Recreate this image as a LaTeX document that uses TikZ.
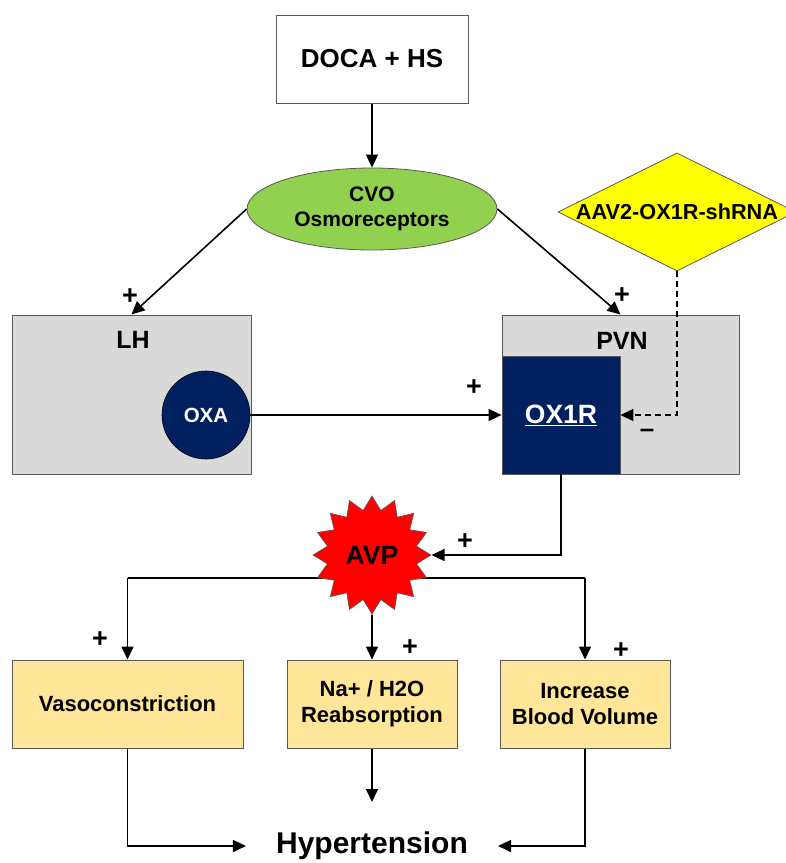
\documentclass[tikz,border=0pt]{standalone}
\usepackage{fontspec}
\setmainfont{Liberation Sans}
\usetikzlibrary{shapes.geometric,arrows.meta}
\definecolor{boxgray}{HTML}{D9D9D9}
\definecolor{edgegray}{HTML}{595959}
\definecolor{navy}{HTML}{002060}
\definecolor{cvogreen}{HTML}{92D050}
\definecolor{aavyellow}{HTML}{FFFF00}
\definecolor{effectfill}{HTML}{FFE699}
\definecolor{avpred}{HTML}{FF0000}
\newcommand{\fs}[1]{\fontsize{#1}{30}\selectfont}
\tikzset{
  arr/.style={line width=1.6pt, -{Triangle[length=13pt,width=12pt]}},
  darr/.style={line width=1.6pt, dash pattern=on 6pt off 4pt, -{Triangle[length=13pt,width=12pt]}},
  conn/.style={line width=1.6pt},
  region/.style={draw=edgegray, fill=boxgray, line width=1pt, minimum height=159pt, inner sep=0pt},
  effect/.style={draw=edgegray, fill=effectfill, line width=1pt, minimum height=88pt, align=center,
                 font=\bfseries\fontsize{22}{26}\selectfont, inner sep=0pt},
  sign/.style={font=\bfseries\fs{27}, inner sep=0pt},
  label text/.style={font=\bfseries\fs{25}, inner sep=0pt},
}
\begin{document}
\begin{tikzpicture}[x=1pt,y=-1pt]
\useasboundingbox (0,0) rectangle (786,863);

% top
\node[draw=edgegray, fill=white, line width=1pt, minimum width=192pt, minimum height=88pt, font=\bfseries\fs{26}] (doca) at (372,59) {DOCA + HS};
\node[ellipse, draw=edgegray, fill=cvogreen, line width=0.8pt, minimum width=250pt, minimum height=82pt, inner sep=0pt, align=center, font=\bfseries\fontsize{21}{25}\selectfont] (cvo) at (372,209) {CVO\\Osmoreceptors};
\draw[arr] (doca.south) -- (cvo.north);

% diamond
\node[diamond, draw=edgegray, fill=aavyellow, line width=0.8pt, minimum width=238pt, minimum height=118pt, inner sep=0pt] (aav) at (677,212) {};
\node[font=\bfseries\fs{21.7}, inner sep=0pt] (aavtxt) at (aav.center) {AAV2-OX1R-shRNA};

% regions
\node[region, minimum width=239pt] (lh) at (131.5,394.5) {};
\node[region, minimum width=237pt] (pvn) at (620.5,394.5) {};
\node[label text] (lhtxt) at (133,340) {LH};
\node[label text] (pvntxt) at (622,341) {PVN};
\node[circle, draw=black, fill=navy, line width=0.6pt, minimum size=88pt, inner sep=0pt, text=white, font=\bfseries\fs{20.5}] (oxa) at (206,415) {OXA};
\node[draw=edgegray, fill=navy, line width=0.8pt, minimum size=118pt, inner sep=0pt, text=white, font=\bfseries\fs{26.5}] (ox1r) at (561,415) {\underline{OX1R}};

\draw[arr] (cvo.west) -- (lh.north);
\draw[arr] (cvo.east) -- (pvn.north);
\node[sign] (p1) at (130,297) {+};
\node[sign] (p2) at (622,296) {+};

\draw[arr] (oxa.east) -- (ox1r.west);
\node[sign] (p3) at (474,388) {+};

\draw[darr] (aav.south) |- (ox1r.east);
\node[sign, font=\bfseries\fs{26}] (m1) at (647,433) {–};

% AVP and branches
\coordinate (hl) at (127.5,578);
\coordinate (hr) at (585,578);
\draw[conn] (hl) -- (hr);
\node[star, star points=16, star point ratio=1.3, draw=edgegray, fill=avpred, line width=0.6pt, minimum size=118pt, inner sep=0pt, font=\bfseries\fs{26.5}] (avp) at (372,555) {AVP};
\draw[arr] (ox1r.south) |- (avp.east);
\node[sign] (p4) at (465,542) {+};

\node[effect, minimum width=231pt] (b1) at (127.5,704) {Vasoconstriction};
\node[effect, minimum width=170pt] (b2) at (372,704) {Na+ / H2O\\Reabsorption};
\node[effect, minimum width=170pt] (b3) at (585,704) {Increase\\Blood Volume};

\draw[arr] (hl) -- (b1.north);
\draw[arr] (avp.south) -- (b2.north);
\draw[arr] (hr) -- (b3.north);
\node[sign] (p5) at (100,640) {+};
\node[sign] (p6) at (410,648) {+};
\node[sign] (p7) at (621,651) {+};

% bottom
\node[font=\bfseries\fs{30}, inner xsep=30pt, inner ysep=0pt] (hyp) at (372,846) {Hypertension};
\coordinate (b2end) at (372,802);
\draw[arr] (b1.south) |- (hyp.west);
\draw[arr] (b2.south) -- (b2end);
\draw[arr] (b3.south) |- (hyp.east);
\end{tikzpicture}
\end{document}
